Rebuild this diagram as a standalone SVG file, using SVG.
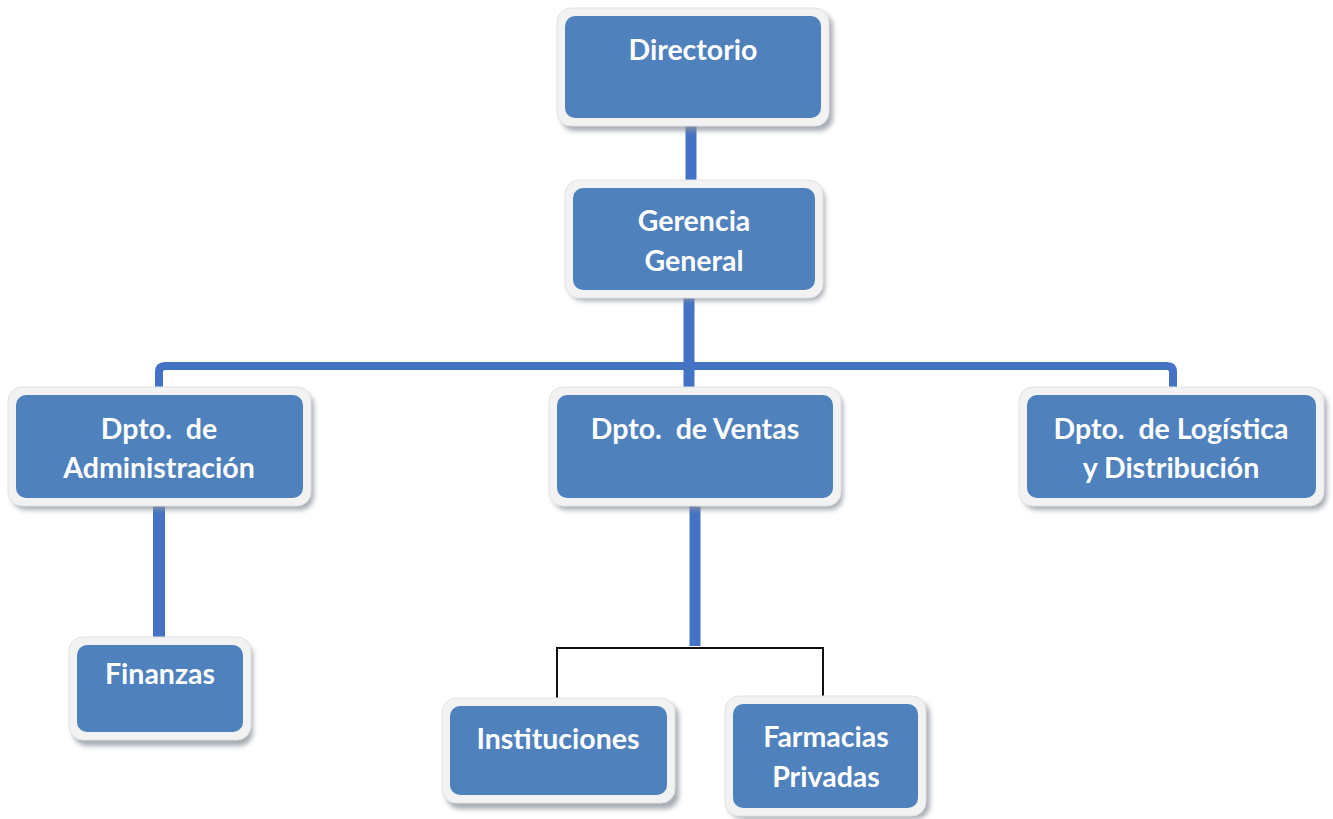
<svg xmlns="http://www.w3.org/2000/svg" width="1333" height="819" viewBox="0 0 1333 819">
<defs>
<filter id="sh" x="-10%" y="-10%" width="130%" height="140%">
<feGaussianBlur stdDeviation="2.5"/>
</filter>
</defs>
<style>
.shadow{fill:#8a929c;opacity:0.75;filter:url(#sh)}
.frame{fill:#f2f2f2;stroke:#e2e2e2;stroke-width:1}
.box{fill:#4f81bd}
.t{font-family:Lato,"Open Sans","Liberation Sans",sans-serif;font-weight:bold;font-size:28.5px;fill:#ffffff;text-anchor:middle;white-space:pre}
.conn{stroke:#4472c4;fill:none}
.thin{stroke:#111111;stroke-width:2;fill:none}
</style>
<rect width="1333" height="819" fill="#ffffff"/>
<g id="connectors">
<line class="conn" x1="691" y1="126" x2="691" y2="192" stroke-width="11"/>
<line class="conn" x1="689" y1="282" x2="689" y2="395" stroke-width="11"/>
<path class="conn" d="M159 395 V372 Q159 366 165 366 H1167 Q1173 366 1173 372 V395" stroke-width="8"/>
<line class="conn" x1="159" y1="496" x2="159" y2="647" stroke-width="12"/>
<line class="conn" x1="695" y1="496" x2="695" y2="646" stroke-width="11"/>
<path class="thin" d="M557 703 V648 H823 V703"/>
</g>
<g id="directorio">
<rect class="shadow" x="561" y="13" width="272" height="118" rx="14"/>
<rect class="frame" x="557" y="8" width="272" height="118" rx="14"/>
<rect class="box" x="565" y="16" width="256" height="102" rx="10"/>
<text class="t" x="693" y="60">Directorio</text>
</g>
<g id="gerencia">
<rect class="shadow" x="569" y="185" width="256" height="116" rx="14"/>
<rect class="frame" x="565" y="180" width="258" height="118" rx="14"/>
<rect class="box" x="573" y="188" width="242" height="102" rx="10"/>
<text class="t" x="694" y="231">Gerencia</text>
<text class="t" x="694" y="271">General</text>
</g>
<g id="administracion">
<rect class="shadow" x="12" y="392" width="302" height="118" rx="14"/>
<rect class="frame" x="8" y="387" width="303" height="119" rx="14"/>
<rect class="box" x="16" y="395" width="287" height="103" rx="10"/>
<text class="t" x="159" y="439">Dpto.  de</text>
<text class="t" x="159" y="478">Administración</text>
</g>
<g id="ventas">
<rect class="shadow" x="553" y="392" width="290" height="118" rx="14"/>
<rect class="frame" x="549" y="387" width="292" height="119" rx="14"/>
<rect class="box" x="557" y="395" width="276" height="103" rx="10"/>
<text class="t" x="695" y="439">Dpto.  de Ventas</text>
</g>
<g id="logistica">
<rect class="shadow" x="1023" y="392" width="304" height="118" rx="14"/>
<rect class="frame" x="1019" y="387" width="305" height="119" rx="14"/>
<rect class="box" x="1027" y="395" width="289" height="103" rx="10"/>
<text class="t" x="1171" y="439">Dpto.  de Logística</text>
<text class="t" x="1171" y="478">y Distribución</text>
</g>
<g id="finanzas">
<rect class="shadow" x="73" y="642" width="180" height="104" rx="14"/>
<rect class="frame" x="69" y="637" width="182" height="103" rx="14"/>
<rect class="box" x="77" y="645" width="166" height="87" rx="10"/>
<text class="t" x="160" y="684">Finanzas</text>
</g>
<g id="instituciones">
<rect class="shadow" x="446" y="703" width="233" height="106" rx="14"/>
<rect class="frame" x="442" y="698" width="233" height="105" rx="14"/>
<rect class="box" x="450" y="706" width="217" height="89" rx="10"/>
<text class="t" x="558" y="749">Instituciones</text>
</g>
<g id="farmacias">
<rect class="shadow" x="729" y="701" width="201" height="118" rx="14"/>
<rect class="frame" x="725" y="696" width="201" height="120" rx="14"/>
<rect class="box" x="733" y="704" width="185" height="104" rx="10"/>
<text class="t" x="826" y="747">Farmacias</text>
<text class="t" x="826" y="787">Privadas</text>
</g>
</svg>
